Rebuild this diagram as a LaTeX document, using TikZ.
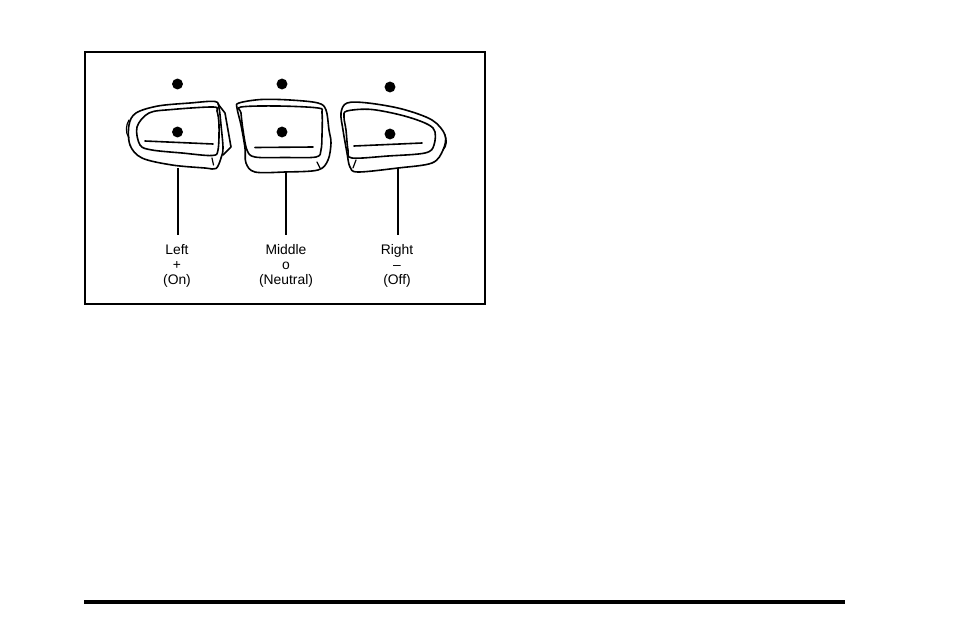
\documentclass[tikz,border=0pt]{standalone}
\usepackage{fontspec}
\setmainfont{Liberation Sans}
\tikzset{
  px/.style={x=0.75pt,y=-0.75pt},
  ink/.style={draw=black,line width=1.2pt,line join=round,line cap=round},
  thin ink/.style={draw=black,line width=0.9pt,line join=round,line cap=round},
  frame/.style={draw=black,line width=1.4pt},
  rulebar/.style={draw=black,line width=2.3pt},
  stem/.style={draw=black,line width=0.8pt},
  dot/.style={circle,fill=black,draw=none,minimum size=8.2pt,inner sep=0pt},
  lab/.style={align=center,font=\fontsize{10.4}{11.2}\selectfont,anchor=north,inner xsep=0pt,inner ysep=7.25pt},
  sm/.style={smooth cycle,tension=0.55}
}
\begin{document}
\begin{tikzpicture}[px]
\useasboundingbox (0,0) rectangle (954,636);
\draw[frame] (85,52) rectangle (485,304);
\coordinate (ra) at (84,602); \coordinate (rb) at (845,602);
\draw[rulebar] (ra) -- (rb);
% left button
\draw[ink] plot[sm] coordinates {(215,101.5)(190,103)(158,106)(136,113)(129,125)(130,145)(142,158)(172,165)(205,168)(216,168.5)(221,158)(223,148)(221,125)(219,108)};
\draw[ink] plot[sm] coordinates {(213,107)(172,109.5)(149,113)(137,127)(140,145)(152,150)(182,153)(212,155.5)(218,150)(219,125)(217,111)};
\draw[ink] (218,104) -- (225,113) -- (231,147) -- (223,155);
\draw[thin ink] (129,120) .. controls (126,125) and (125,132) .. (129,138);
\draw[ink] (145,141) -- (213,144);
\draw[thin ink] (212,158) -- (213.5,165);
% middle button
\draw[ink] plot[sm] coordinates {(239,103)(261,99.5)(290,100)(318,103)(326,110)(329,130)(331,143)(328,160)(318,170)(285,172)(255,172)(246,163)(245,148)(241,125)(237,108)};
\draw[ink] plot[sm] coordinates {(241,107)(278,106)(318,108)(322,113)(322,135)(321,150)(316,157)(285,157.5)(255,157)(247,150)(243,130)(241,113)};
\draw[ink] (255,147.5) -- (313,147);
\draw[thin ink] (317,162) -- (320,168);
% right button
\draw[ink] plot[sm] coordinates {(347,103)(368,103)(402,109)(432,120)(445,135)(443,150)(432,163)(398,168)(358,172)(350,167)(347,153)(343,130)(341,113)};
\draw[ink] plot[sm] coordinates {(347,111)(372,109.5)(408,117)(433,128)(434,145)(425,153)(388,156)(352,158)(348,150)(346,130)(344,117)};
\draw[thin ink] (445,135) .. controls (447,140) and (447,146) .. (443,150);
\draw[ink] (354,146) -- (422,143);
\draw[thin ink] (356,160) -- (353,168);
% dots
\node[dot] (d1) at (177.5,84) {};
\node[dot] (d2) at (177.5,132) {};
\node[dot] (d3) at (282,84) {};
\node[dot] (d4) at (282,132) {};
\node[dot] (d5) at (390,87) {};
\node[dot] (d6) at (390,134) {};
% labels
\node[lab] (l1) at (177,235) {Left\\+\\(On)};
\node[lab] (l2) at (286,235) {Middle\\o\\(Neutral)};
\node[lab] (l3) at (397,235) {Right\\--\\(Off)};
% connectors
\coordinate (b1) at (178,168);
\coordinate (b2) at (286,172);
\coordinate (b3) at (398,168);
\draw[stem] (b1) -- (b1 |- l1.north);
\draw[stem] (b2) -- (b2 |- l2.north);
\draw[stem] (b3) -- (b3 |- l3.north);
\end{tikzpicture}
\end{document}
